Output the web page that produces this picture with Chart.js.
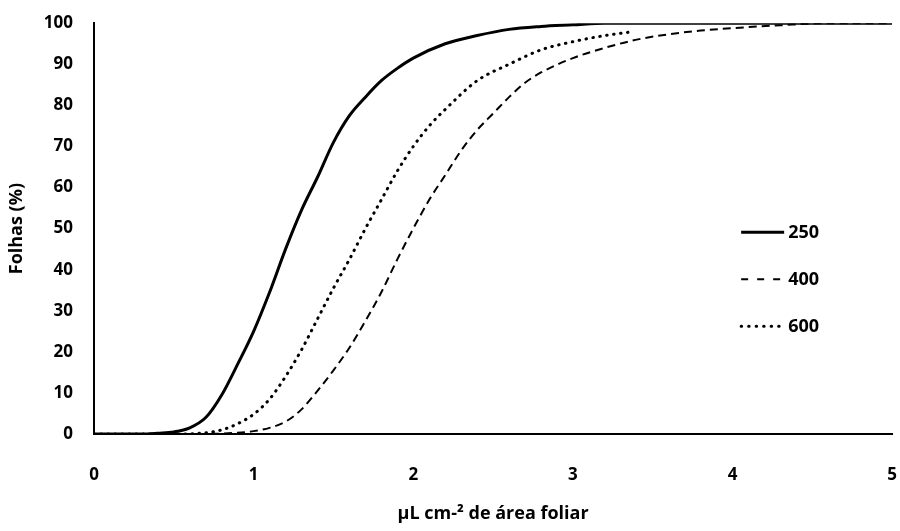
<!DOCTYPE html>
<html>
<head>
<meta charset="utf-8">
<script src="https://cdn.jsdelivr.net/npm/chart.js@4.4.1/dist/chart.umd.min.js"></script>
<style>
  body { margin: 0; background: #fff; }
  #wrap { width: 900px; height: 531px; }
</style>
</head>
<body>
<div id="wrap"><canvas id="myChart"></canvas></div>
<script>
// values (x = µL cm-2, y = % folhas)
const x250 = [0, 0.3, 0.4, 0.5, 0.6, 0.7, 0.8, 0.9, 1.0, 1.1, 1.2, 1.3, 1.4, 1.5, 1.6, 1.7, 1.8, 1.9, 2.0, 2.2, 2.4, 2.6, 2.8, 3.0, 3.2, 5];
const y250 = [0, 0, 0.2, 0.5, 1.5, 4, 9.5, 17, 25, 34.5, 45, 54.5, 62.5, 71, 77.5, 82, 86, 89, 91.5, 95, 97, 98.5, 99.2, 99.6, 100, 100];

const x400 = [0, 0.6, 0.9, 1.0, 1.1, 1.2, 1.3, 1.4, 1.5, 1.6, 1.7, 1.8, 1.9, 2.0, 2.1, 2.2, 2.3, 2.4, 2.5, 2.6, 2.7, 2.8, 3.0, 3.2, 3.4, 3.6, 3.8, 4.0, 4.3, 4.6, 5];
const y400 = [0, 0, 0.3, 0.7, 1.5, 3, 6, 10.5, 15.5, 21, 27.5, 34.5, 42.5, 50, 57, 63, 69, 74, 78, 82, 85.5, 88, 91.5, 94, 96, 97.3, 98.2, 98.8, 99.5, 100, 100];

const x600 = [0, 0.5, 0.7, 0.8, 0.9, 1.0, 1.1, 1.2, 1.3, 1.4, 1.5, 1.6, 1.7, 1.8, 1.9, 2.0, 2.1, 2.2, 2.4, 2.6, 2.8, 3.0, 3.2, 3.35];
const y600 = [0, 0, 0.3, 1, 2.5, 4.8, 8.5, 14, 20.5, 28, 35.5, 42.5, 50, 57, 64, 70, 75, 79, 86, 90, 93.5, 95.5, 97, 97.8];

const seriesNames = ['250', '400', '600'];
const xTicks = [0, 1, 2, 3, 4, 5];
const yTicks = [0, 10, 20, 30, 40, 50, 60, 70, 80, 90, 100];

function pts(xs, ys) {
    return xs.map((v, i) => ({x: v, y: ys[i]}));
}

const FONT = '"Open Sans", Lato, sans-serif';

// legend drawn inside the plot, right side, stacked
const sideLegend = {
    id: 'sideLegend',
    afterDraw(chart) {
        const ctx = chart.ctx;
        const a = chart.chartArea;
        const x0 = a.right - 151;
        chart.data.datasets.forEach((ds, i) => {
            const y = a.top + 209 + i * 47;
            ctx.save();
            ctx.strokeStyle = '#000';
            ctx.lineWidth = ds.borderWidth;
            ctx.lineCap = ds.borderCapStyle || 'butt';
            ctx.setLineDash(ds.legendDash || ds.borderDash || []);
            ctx.beginPath();
            ctx.moveTo(x0, y);
            ctx.lineTo(x0 + (ds.legendLen || 43), y);
            ctx.stroke();
            ctx.setLineDash([]);
            ctx.fillStyle = '#000';
            ctx.font = 'bold 18px ' + FONT;
            ctx.textBaseline = 'middle';
            ctx.fillText(ds.label, x0 + 47, y + 1);
            ctx.restore();
        });
    }
};

var ctx = document.getElementById('myChart').getContext('2d');
var myChart = new Chart(ctx, {
    type: 'line',
    data: {
        datasets: [{
            label: seriesNames[0],
            data: pts(x250, y250),
            borderColor: '#000',
            borderWidth: 3,
            pointRadius: 0,
            cubicInterpolationMode: 'monotone'
        }, {
            label: seriesNames[1],
            data: pts(x400, y400),
            borderColor: '#000',
            borderWidth: 2,
            borderDash: [8, 5],
            legendDash: [7, 9],
            pointRadius: 0,
            cubicInterpolationMode: 'monotone'
        }, {
            label: seriesNames[2],
            data: pts(x600, y600),
            borderColor: '#000',
            borderWidth: 3,
            borderDash: [0.5, 6.5],
            legendDash: [0.5, 7],
            legendLen: 38,
            borderCapStyle: 'round',
            pointRadius: 0,
            cubicInterpolationMode: 'monotone'
        }]
    },
    options: {
        responsive: true,
        maintainAspectRatio: false,
        animation: false,
        layout: { padding: { left: 0, right: 7, top: 21, bottom: 0 } },
        plugins: {
            legend: { display: false },
            tooltip: { enabled: false }
        },
        scales: {
            x: {
                type: 'linear',
                min: 0,
                max: 5,
                afterBuildTicks: (s) => { s.ticks = xTicks.map(v => ({value: v})); },
                afterFit: (s) => { s.height = 97; },
                grid: { display: false },
                border: { display: true, color: '#000', width: 2 },
                ticks: {
                    color: '#000',
                    padding: 3,
                    // tall line height pushes the labels down without widening the side padding
                    font: { family: FONT, size: 17, weight: 'bold', lineHeight: 3.6 }
                },
                title: {
                    display: true,
                    text: 'µL cm-² de área foliar',
                    color: '#000',
                    padding: { top: 0, bottom: 6 },
                    font: { family: FONT, size: 18, weight: 'bold' }
                }
            },
            y: {
                min: 0,
                max: 100,
                afterBuildTicks: (s) => { s.ticks = yTicks.map(v => ({value: v})); },
                afterFit: (s) => { s.width = 94; },
                grid: { display: false },
                border: { display: true, color: '#000', width: 2 },
                ticks: {
                    color: '#000',
                    padding: 13,
                    font: { family: FONT, size: 17, weight: 'bold' }
                },
                title: {
                    display: true,
                    text: 'Folhas (%)',
                    color: '#000',
                    padding: { top: 6, bottom: 0 },
                    font: { family: FONT, size: 18, weight: 'bold' }
                }
            }
        }
    },
    plugins: [sideLegend]
});
</script>
</body>
</html>
